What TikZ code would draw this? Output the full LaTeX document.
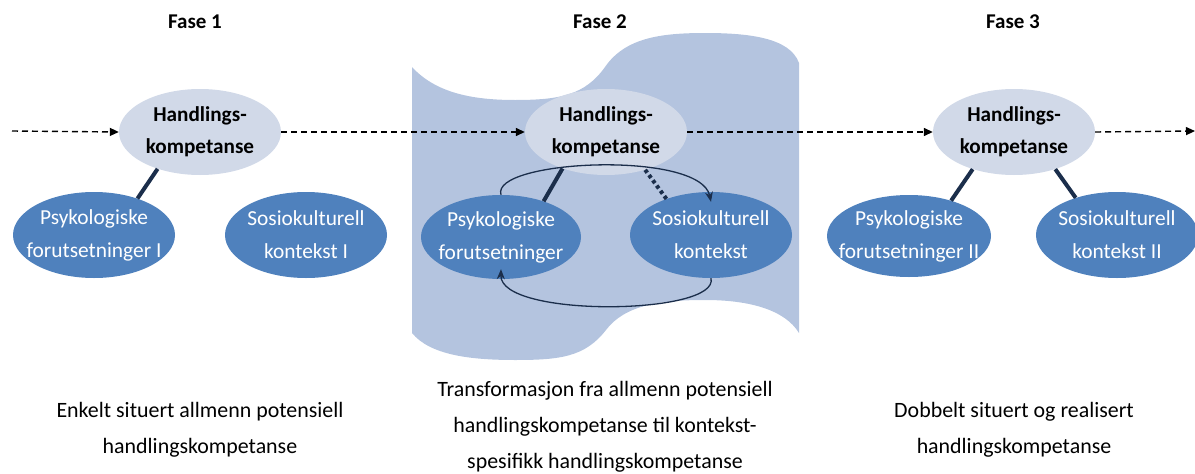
\documentclass[tikz,border=0pt]{standalone}
\usepackage{fontspec}
\setmainfont{Carlito}
\usetikzlibrary{shapes.geometric,arrows.meta}
\definecolor{wavebg}{HTML}{B4C4DF}
\definecolor{lightell}{HTML}{D1D9E8}
\definecolor{darkell}{HTML}{4F81BD}
\definecolor{navy}{HTML}{1B2E4B}
\tikzset{
  hk/.style={ellipse, fill=lightell, draw=none, minimum width=162pt, minimum height=86pt, inner sep=0pt,
    label={[font=\fontsize{21.2}{32}\selectfont\bfseries, align=center, text=black]center:Handlings-\\kompetanse}},
  dk/.style={ellipse, fill=darkell, draw=none, minimum width=162pt, minimum height=86pt, inner sep=0pt},
  dktext/.style={font=\fontsize{21.4}{33}\selectfont, align=center, text=white},
  fase/.style={font=\fontsize{21}{25}\selectfont\bfseries, anchor=base},
  desc/.style={font=\fontsize{21.9}{36}\selectfont, align=center, anchor=base},
  flow/.style={dash pattern=on 6pt off 4pt, line width=1.4pt, -{Triangle[length=9pt,width=8pt]}},
  tie/.style={navy, line width=4pt},
  tiedot/.style={navy, line width=4pt, dash pattern=on 3.5pt off 3pt},
  cyc/.style={navy, line width=1.3pt, -{Stealth[length=10pt,width=8pt]}},
}
\begin{document}
\begin{tikzpicture}[x=1pt,y=-1pt]
\useasboundingbox (0,0) rectangle (1195,474);
% wave background for Fase 2
\fill[wavebg] (412,67) .. controls (435,92) and (470,100) .. (515,100)
  .. controls (560,100) and (585,95) .. (605,67)
  .. controls (625,38) and (660,33) .. (705,33)
  .. controls (750,33) and (790,38) .. (799,63)
  -- (799,333)
  .. controls (785,310) and (750,300) .. (705,300)
  .. controls (660,300) and (625,305) .. (606,330)
  .. controls (585,357) and (560,360) .. (515,360)
  .. controls (470,360) and (430,355) .. (412,333) -- cycle;

% phase titles
\node[fase] (f1) at (195,28) {Fase 1};
\node[fase] (f2) at (600,28) {Fase 2};
\node[fase] (f3) at (1013,28) {Fase 3};

% competence ellipses
\node[hk] (h1) at (200,132) {};
\node[hk] (h2) at (606,132) {};
\node[hk] (h3) at (1014,132) {};

% lower ellipses
\node[dk, label={[dktext]center:Psykologiske\\forutsetninger I}] (p1) at (94,235) {};
\node[dk, label={[dktext]center:Sosiokulturell\\kontekst I}] (s1) at (306,235) {};
\node[dk, minimum width=160pt, minimum height=84pt, label={[dktext]center:Psykologiske\\forutsetninger}] (p2) at (501,237) {};
\node[dk, label={[dktext]center:Sosiokulturell\\kontekst}] (s2) at (711,235) {};
\node[dk, minimum width=164pt, minimum height=82pt, label={[dktext]center:Psykologiske\\forutsetninger II}] (p3) at (909,236) {};
\node[dk, label={[dktext]center:Sosiokulturell\\kontekst II}] (s3) at (1117,235) {};

% dashed flow line
\coordinate (start) at (12,131);
\coordinate (finish) at (1195,131);
\draw[flow] (start) -- (h1.west);
\draw[flow] (h1.east) -- (h2.west);
\draw[flow] (h2.east) -- (h3.west);
\draw[flow] (h3.east) -- (finish);

% ties
\draw[tie] (h1.221) -- (p1.40);
\draw[tie] (h2.220) -- (p2.40);
\draw[tiedot] (h2.316) -- (s2.141);
\draw[tie] (h3.222) -- (p3.40);
\draw[tie] (h3.318) -- (s3.138);

% cycle arrows
\draw[cyc] (p2.north) .. controls +(-11,-35) and +(-11,-52) .. ([yshift=-10pt]s2.north);
\draw[cyc] (s2.south) .. controls +(9,37) and +(-1,49) .. ([yshift=10pt]p2.south);

% descriptions (base anchor = baseline of last line)
\node[desc] (d1) at (200,453) {Enkelt situert allmenn potensiell\\handlingskompetanse};
\node[desc] (d2) at (605,468) {Transformasjon fra allmenn potensiell\\handlingskompetanse til kontekst-\\spesifikk handlingskompetanse};
\node[desc] (d3) at (1014,453) {Dobbelt situert og realisert\\handlingskompetanse};
\end{tikzpicture}
\end{document}
